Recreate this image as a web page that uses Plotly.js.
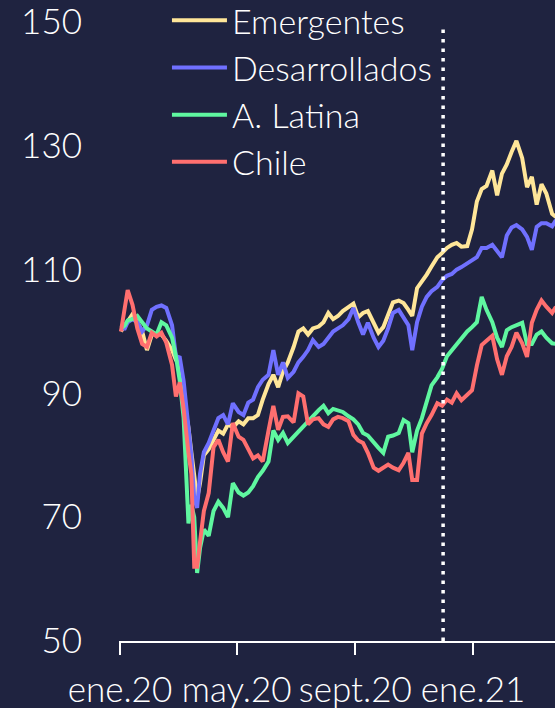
<!DOCTYPE html>
<html>
<head>
<meta charset="utf-8">
<script src="https://cdn.plot.ly/plotly-3.0.1.min.js"></script>
<style>
html,body{margin:0;padding:0;background:#1f2340;}
#chart{width:555px;height:708px;}
</style>
</head>
<body>
<div id="chart"></div>
<script>
const dates = [
"2020-01-02","2020-01-06","2020-01-09","2020-01-14","2020-01-19","2020-01-24","2020-01-29","2020-02-03",
"2020-02-08","2020-02-13","2020-02-18","2020-02-24","2020-02-28","2020-03-03","2020-03-07","2020-03-12",
"2020-03-15","2020-03-18","2020-03-21","2020-03-24","2020-03-28","2020-04-02","2020-04-07","2020-04-12",
"2020-04-17","2020-04-22","2020-04-27","2020-05-03","2020-05-08","2020-05-13","2020-05-18","2020-05-23",
"2020-05-28","2020-06-03","2020-06-08","2020-06-13","2020-06-18","2020-06-23","2020-06-29","2020-07-04",
"2020-07-09","2020-07-14","2020-07-19","2020-07-25","2020-07-30","2020-08-04","2020-08-09","2020-08-14",
"2020-08-19","2020-08-25","2020-08-30","2020-09-04","2020-09-09","2020-09-14","2020-09-20","2020-09-25",
"2020-09-30","2020-10-05","2020-10-10","2020-10-16","2020-10-21","2020-10-26","2020-10-30","2020-11-04",
"2020-11-09","2020-11-14","2020-11-19","2020-11-25","2020-11-30","2020-12-05","2020-12-10","2020-12-15",
"2020-12-20","2020-12-26","2020-12-31","2021-01-05","2021-01-10","2021-01-15","2021-01-21","2021-01-26",
"2021-01-31","2021-02-05","2021-02-10","2021-02-15","2021-02-21","2021-02-26","2021-03-03","2021-03-08",
"2021-03-13","2021-03-18","2021-03-24","2021-03-28"
];

const emergentes = [
100,101,101.8,102.8,101.5,100,97,99.5,99.6,99.5,98.5,97,95.4,95,89,84.5,
80.5,76,73,75.5,80,81,82.5,84,83.5,85,84.5,85.5,85,86,86,86.5,
89,91.5,93,91,93.5,95,97.5,100,100.5,99.5,100.5,100.8,101.5,103,102,102.5,
103.3,104,104.5,102.3,103,103.3,101.5,99.8,100.7,102.5,104.7,105,104.6,103.5,102.5,107,
108,109.2,110.5,112,112.7,113.5,114,114.3,113.7,113.8,116.5,121,123,123.5,126,122,
125.5,127,129,130.8,128,123.3,125,120.5,123.8,122.3,119,118.5
];

const desarrollados = [
100.5,100.5,101.5,102,101.5,100,101,103.5,104,104.2,103.8,101,96,95.8,92,85,
80,73,71.5,77,80.5,82,84,86,86.5,85,88.4,87,86.5,88.5,89,91,
92.2,93,97,93,95,92.5,93.5,95,95.9,97,98.6,97.5,98,99,100,100.5,
101,102,103.8,101.5,99.5,101.4,99,97.5,98.5,100.5,103,103.5,102.3,101,97,101.5,
104,105.6,106.5,107.2,108.3,109,109.3,110,110.4,111,111.5,112,113.5,113.5,114,113,
112,115.5,116.8,117.2,116.5,115.3,113.2,116.9,117.5,117.5,117,118
];

const latina = [
100.5,101,101.8,102,102.5,101.5,100.5,100,99.5,101.5,101,99,96,92,86,69,
72,70,61,65,68,67,71,72.5,71.5,70,75.5,74,73.5,74,75,76.5,
77.5,79,84,82.5,83.6,82,83,84,84.6,85.5,86.5,87.3,88,86.8,87.5,87.3,
87,86.3,85.8,85,83.6,83.2,82,81.2,80.4,83,83.2,83.6,85.7,85.2,80.5,84,
86,88.4,91.3,92.6,94,96,97,98,99,100,100.7,101.5,105.6,103.5,101.5,99,
97.5,100.2,100.7,101,101.4,98,98,99.5,100,99,98.1,98
];

const chile = [
100,104.5,106.7,104.3,100.5,98,97.5,99.8,99.2,99.8,98.2,94.6,89.5,91.8,87.5,80.4,
77,62,62,66,71,73.9,81.3,82.5,80.5,79,85.2,83,82.5,81,79.5,80,
79,84,88,84.1,86.2,86.3,85.3,90,89.5,85,85.8,86,85,84.6,85.8,86.2,
86,85.5,83.3,82.4,82,80.4,78,77.5,78.1,78.5,78,77.6,78.8,80.4,76,76,
83.5,85.2,86.5,88.4,88,89,88.5,90,88.9,89.8,90.5,94.5,97.8,98.5,99.3,95.5,
93,96,97.5,99.8,98.1,95.9,101.4,103.5,105,104,103,104
];

const seriesNames = ["Emergentes","Desarrollados","A. Latina","Chile"];
const seriesColors = ["#FFE699","#7070FF","#5FF7A0","#FF6F6F"];
const seriesValues = [emergentes, desarrollados, latina, chile];

const xTickVals = ["2020-01-01","2020-05-01","2020-09-01","2021-01-01"];
const xTickText = ["ene.20","may.20","sept.20","ene.21"];
const yTickVals = [50,70,90,110,130,150];
const markerDate = "2020-12-01";

const FONT = "Lato, 'Open Sans', sans-serif";

const traces = seriesValues.map((vals, i) => ({
  type: "scatter",
  mode: "lines",
  x: dates,
  y: vals,
  name: seriesNames[i],
  line: {color: seriesColors[i], width: 4},
  hoverinfo: "skip"
}));

const layout = {
  width: 555,
  height: 708,
  paper_bgcolor: "#1f2340",
  plot_bgcolor: "#1f2340",
  margin: {l: 119, r: 0, t: 22, b: 67, autoexpand: false},
  font: {family: FONT, size: 35, color: "#ffffff", weight: 300},
  showlegend: true,
  legend: {
    x: 0.11, y: 1.049, xanchor: "left", yanchor: "top",
    bgcolor: "rgba(0,0,0,0)",
    font: {family: FONT, size: 34, color: "#ffffff", weight: 300},
    itemwidth: 55,
    traceorder: "normal"
  },
  xaxis: {
    type: "date",
    range: ["2019-12-31", "2021-03-27"],
    showgrid: false,
    zeroline: false,
    showline: true,
    linecolor: "#ffffff",
    linewidth: 2,
    ticks: "outside",
    ticklen: 12,
    tickwidth: 2,
    tickcolor: "#ffffff",
    tickvals: xTickVals,
    ticktext: xTickText,
    tickfont: {family: FONT, size: 35, color: "#ffffff", weight: 300},
    ticklabelstandoff: 5,
    ticklabeloverflow: "allow",
    fixedrange: true
  },
  yaxis: {
    range: [50, 150],
    showgrid: false,
    zeroline: false,
    showline: false,
    ticks: "",
    tickvals: yTickVals,
    tickfont: {family: FONT, size: 35, color: "#ffffff", weight: 300},
    ticklabelstandoff: 36,
    ticklabeloverflow: "allow",
    fixedrange: true
  },
  shapes: [{
    type: "line",
    xref: "x", yref: "y",
    x0: markerDate, x1: markerDate,
    y0: 50, y1: 149,
    line: {color: "#ffffff", width: 3.5, dash: "3.5px,6px"}
  }]
};

Plotly.newPlot("chart", traces, layout, {displayModeBar: false, staticPlot: true});
</script>
</body>
</html>
